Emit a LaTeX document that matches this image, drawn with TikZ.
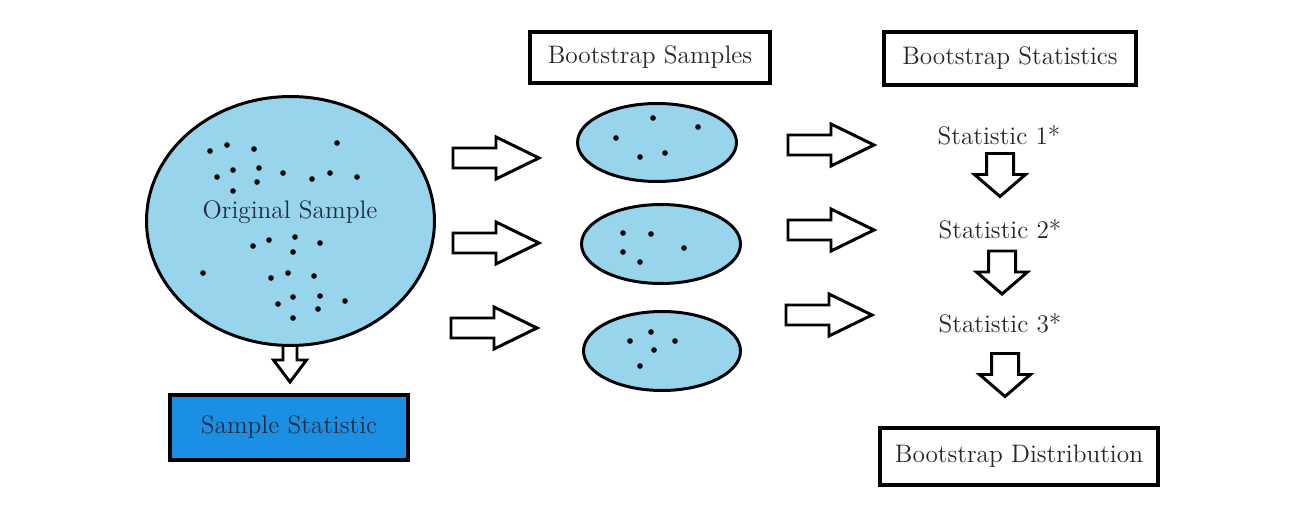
\documentclass[tikz,border=0pt]{standalone}
\usetikzlibrary{shapes.geometric}
\definecolor{skyfill}{RGB}{152,212,236}
\definecolor{statblue}{RGB}{27,143,227}
\definecolor{inktext}{RGB}{30,45,65}
\begin{document}
\begin{tikzpicture}[x=0.02cm, y=-0.02cm, line join=miter, font=\fontsize{14.4}{16}\selectfont,
	pop/.style={ellipse, draw, fill=skyfill, line width=1.7pt, inner sep=0pt},
	labelbox/.style={draw, line width=2.2pt, fill=white, inner sep=0pt, text=black!85},
	plain/.style={inner sep=0pt, text=inktext},
	blockline/.style={draw, fill=white, line width=1.7pt},
	rarrow/.pic={\draw[blockline] (0,-10) -- (43,-10) -- (43,-21) -- (86,0) -- (43,21) -- (43,10) -- (0,10) -- cycle;},
	darrow/.pic={\draw[blockline] (-13.5,0) -- (-13.5,21) -- (-25.5,21) -- (0,43) -- (25.5,21) -- (13.5,21) -- (13.5,0) -- cycle;},
	sarrow/.pic={\draw[blockline] (-7,0) -- (-7,20) -- (-16.5,20) -- (0,42) -- (16.5,20) -- (7,20) -- (7,0) -- cycle;}]
	%%%%%%%%%%%%%%%%%%%%%%%%%%%%%%%%%
	\useasboundingbox (0,0) rectangle (1296,507);
	%%%%%%%%%%%%%%%%%%%%%%%%%%%%%%%%%
	% original sample
	\pic at (290,340) {sarrow};
	\node[pop, minimum width=5.76cm, minimum height=4.98cm] (orig) at (290.5,221) {};
	\foreach \p in {(210,151),(227,145),(254,149),(337,143),(217,177),(233,170),(259,168),(257,182),
		(283,173),(312,179),(330,173),(357,177),(233,191),(253,246),(269,240),(295,237),(293,252),
		(320,243),(203,273),(271,278),(288,273),(314,276),(278,304),(293,297),(320,296),(345,301),
		(318,309),(293,318)}
		\fill \p circle (1.6pt);
	\node[plain] (origtext) at (290,212) {Original Sample};
	\node[labelbox, fill=statblue, text=inktext, minimum width=4.76cm, minimum height=1.3cm] (samplestat) at (289,427.5) {Sample Statistic};
	%%%%%%%%%%%%%%%%%%%%%%%%%%%%%%%%%
	% bootstrap samples
	\node[labelbox, minimum width=4.8cm, minimum height=1.02cm] (bsamples) at (650,57.5) {Bootstrap Samples};
	\node[pop, minimum width=3.18cm, minimum height=1.56cm] (s1) at (657,142.5) {};
	\node[pop, minimum width=3.18cm, minimum height=1.58cm] (s2) at (661,244) {};
	\node[pop, minimum width=3.14cm, minimum height=1.58cm] (s3) at (662,351) {};
	\foreach \p in {(653,118),(698,127),(616,138),(640,157),(665,153),
		(623,233),(651,234),(623,252),(640,262),(684,248),
		(651,332),(630,341),(675,341),(654,350),(640,366)}
		\fill \p circle (1.6pt);
	\pic at (453,158) {rarrow};
	\pic at (453,243) {rarrow};
	\pic at (451,328) {rarrow};
	%%%%%%%%%%%%%%%%%%%%%%%%%%%%%%%%%
	% bootstrap statistics
	\node[labelbox, minimum width=5.04cm, minimum height=1.06cm] (bstats) at (1010,58.5) {Bootstrap Statistics};
	\pic at (788,145) {rarrow};
	\pic at (788,230) {rarrow};
	\pic at (786,315) {rarrow};
	\node[plain, text=black!85] (stat1) at (999,135) {Statistic 1*};
	\node[plain, text=black!85] (stat2) at (1000,229) {Statistic 2*};
	\node[plain, text=black!85] (stat3) at (1000,323) {Statistic 3*};
	\pic at (1000,153.5) {darrow};
	\pic at (1002,251) {darrow};
	\pic at (1005,353.5) {darrow};
	\node[labelbox, minimum width=5.56cm, minimum height=1.14cm] (bdist) at (1019,456.5) {Bootstrap Distribution};
	%%%%%%%%%%%%%%%%%%%%%%%%%%%%%%%%%
\end{tikzpicture}
\end{document}
